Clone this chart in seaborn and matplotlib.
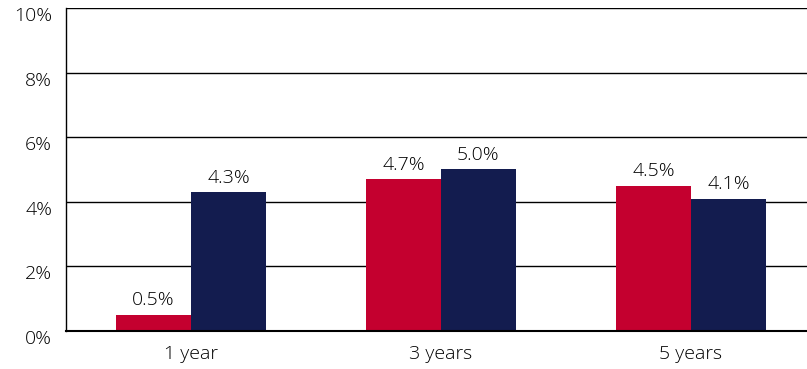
import pandas as pd
import matplotlib.pyplot as plt
import matplotlib.transforms as mtransforms
import seaborn as sns

# chart data
periods = ['1 year', '3 years', '5 years']
series_names = ['Fund', 'Benchmark']
fund_values = [0.5, 4.7, 4.5]
benchmark_values = [4.3, 5.0, 4.1]
y_ticks = [0, 2, 4, 6, 8, 10]

df = pd.DataFrame({
    'period': periods * 2,
    'series': [series_names[0]] * 3 + [series_names[1]] * 3,
    'value': fund_values + benchmark_values,
})

sns.set_style('white')
plt.rcParams['font.family'] = ['Open Sans', 'DejaVu Sans']
plt.rcParams['font.weight'] = 'light'

text_color = '#000000'

fig = plt.figure(figsize=(8.07, 3.69), dpi=100)
ax = fig.add_axes([66 / 807, (369 - 331) / 369, 750 / 807, 323 / 369])

sns.barplot(data=df, x='period', y='value', hue='series',
            palette=['#C4002F', '#131C4F'], width=0.6, saturation=1,
            legend=False, ax=ax)

for p in ax.patches:
    p.set_linewidth(0)

for cont in ax.containers:
    ax.bar_label(cont, labels=[f'{v:.1f}%' for v in cont.datavalues],
                 padding=4, fontsize=14, color=text_color)

ax.set_ylim(0, 10)
ax.set_xlim(-0.5, 2.5)
ax.set_yticks(y_ticks)
ax.set_yticklabels([f'{t}%' for t in y_ticks])
ax.yaxis.grid(True, color='black', linewidth=1)
ax.set_axisbelow(True)
ax.set_xlabel('')
ax.set_ylabel('')
ax.tick_params(axis='both', labelsize=14, labelcolor=text_color, length=0)
ax.tick_params(axis='x', pad=10)
ax.tick_params(axis='y', pad=10)

# y labels sit a little below their gridlines
shift = mtransforms.ScaledTranslation(0, -6 / 100, fig.dpi_scale_trans)
for lab in ax.get_yticklabels():
    lab.set_transform(lab.get_transform() + shift)

for side in ['top', 'right']:
    ax.spines[side].set_visible(False)
ax.spines['left'].set_color('black')
ax.spines['bottom'].set_color('black')
ax.spines['left'].set_linewidth(1)
ax.spines['bottom'].set_linewidth(1.5)

plt.savefig('out.png', dpi=100)
